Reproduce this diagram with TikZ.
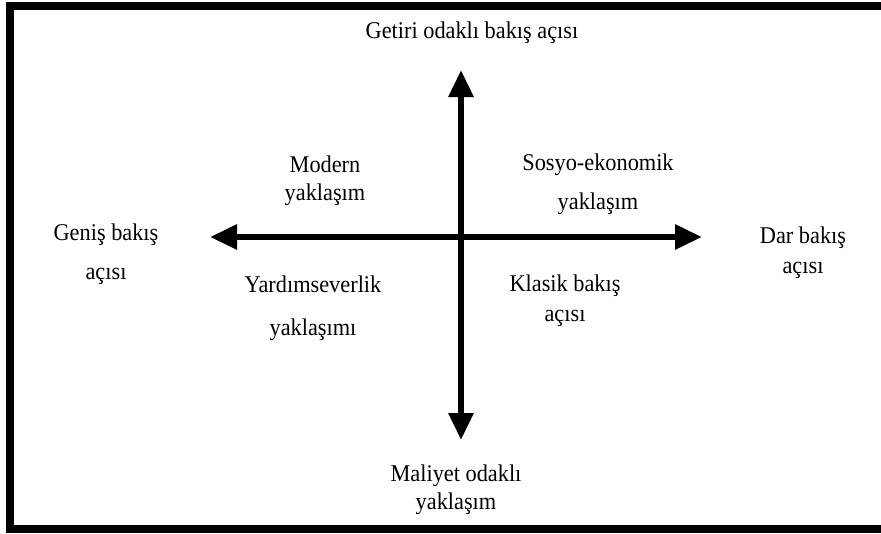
\documentclass[tikz,border=0pt]{standalone}
\usepackage{fontspec}
\setmainfont{Liberation Serif}[FakeStretch=0.93]
\usetikzlibrary{arrows.meta}
\begin{document}
\begin{tikzpicture}[x=1pt,y=-1pt,
  lbl/.style={inner sep=0pt, align=center, font=\fontsize{24}{28}\selectfont},
  axis/.style={line width=6pt, {Triangle[length=27pt,width=24pt]}-{Triangle[length=27pt,width=24pt]}},
  frame/.style={line width=8pt}]
\useasboundingbox (0,0) rectangle (881,533);
\fill[white] (0,0) rectangle (881,533);
\draw[frame] (10,6) rectangle (905,529);
\coordinate (top) at (461,70);
\coordinate (bot) at (461,440);
\coordinate (lft) at (210,237);
\coordinate (rgt) at (702,237);
\draw[axis] (bot) -- (top);
\draw[axis] (lft) -- (rgt);
\node[lbl] (getiri) at (472,33) {Getiri odaklı bakış açısı};
\node[lbl] (maliyet) at (456,490) {Maliyet odaklı\\yaklaşım};
\node[lbl] (genis) at (106,254) {Geniş bakış\\[11pt]açısı};
\node[lbl] (dar) at (803,253) {Dar bakış\\[2pt]açısı};
\node[lbl] (modern) at (325,181) {Modern\\yaklaşım};
\node[lbl] (sosyo) at (598,184) {Sosyo-ekonomik\\[11pt]yaklaşım};
\node[lbl] (yardim) at (313,308) {Yardımseverlik\\[15pt]yaklaşımı};
\node[lbl] (klasik) at (565,301) {Klasik bakış\\[2pt]açısı};
\end{tikzpicture}
\end{document}
